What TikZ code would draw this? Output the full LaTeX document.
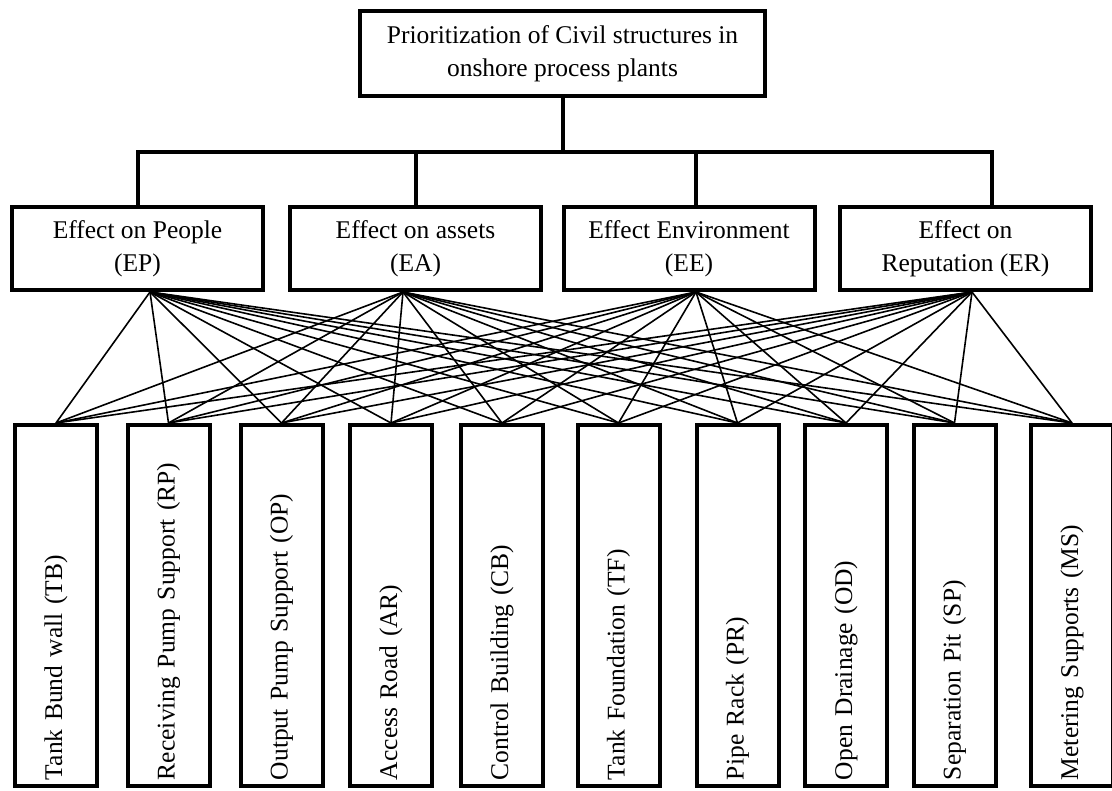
\documentclass[tikz,border=0pt]{standalone}
\usepackage{fontspec}
\setmainfont{Liberation Serif}

\begin{document}
\begin{tikzpicture}[x=.5pt,y=-.5pt]

      \useasboundingbox (0,0) rectangle (1112,791);

      \begin{scope}[every node/.style={draw,line width=2pt,align=center,
          font=\fontsize{12.75pt}{16.5pt}\selectfont,
          minimum width=125.5pt,minimum height=41.5pt}]
        \node (goal) [minimum width=202.5pt,minimum height=42.5pt] at (562.5,53.5)
          {Prioritization of Civil structures in\\onshore process plants};
        \node (EP) at (137.5,248.5) {Effect on People\\(EP)};
        \node (EA) at (415.5,248.5) {Effect on assets\\(EA)};
        \node (EE) at (689,248.5)   {Effect Environment\\(EE)};
        \node (ER) at (965.5,248.5) {Effect on\\Reputation (ER)};
      \end{scope}

      \begin{scope}[every node/.style={draw,line width=2pt,rotate=90,
          font=\fontsize{12.75pt}{16.5pt}\selectfont,align=left,
          text width=174.5pt,inner xsep=3pt,minimum height=41pt}]
        \node (TB) at (56,605.5)   {Tank Bund wall (TB)};
        \node (RP) at (168.5,605.5) {Receiving Pump Support (RP)};
        \node (OP) at (281.5,605.5) {Output Pump Support (OP)};
        \node (AR) at (391,605.5)  {Access Road (AR)};
        \node (CB) at (502,605.5)  {Control Building (CB)};
        \node (TF) at (618.5,605.5) {Tank Foundation (TF)};
        \node (PR) at (737.5,605.5) {Pipe Rack (PR)};
        \node (OD) at (846,605.5)  {Open Drainage (OD)};
        \node (SP) at (954.5,605.5) {Separation Pit (SP)};
        \node (MS) at (1072,605.5) {Metering Supports (MS)};
      \end{scope}

      \begin{scope}[line width=2pt]
        \coordinate (bar) at (560,152);
        \draw (goal.south) -- (goal.south |- bar);
        \draw (EP.north) |- (bar) -| ([xshift=13.25pt]ER.north);
        \draw (EA.north) -- (EA.north |- bar);
        \draw ([xshift=3.5pt]EE.north) -- ([xshift=3.5pt]EE.north |- bar);
      \end{scope}

      \begin{scope}[every edge/.style={draw,line width=.8pt}]
        \path ([xshift=6.25pt]EP.south) edge (TB.east) edge (RP.east) edge (OP.east)
          edge (AR.east) edge (CB.east) edge (TF.east) edge (PR.east)
          edge (OD.east) edge (SP.east) edge (MS.east);
        \path ([xshift=-6.25pt]EA.south) edge (TB.east) edge (RP.east) edge (OP.east)
          edge (AR.east) edge (CB.east) edge (TF.east) edge (PR.east)
          edge (OD.east) edge (SP.east) edge (MS.east);
        \path ([xshift=3.5pt]EE.south) edge (TB.east) edge (RP.east) edge (OP.east)
          edge (AR.east) edge (CB.east) edge (TF.east) edge (PR.east)
          edge (OD.east) edge (SP.east) edge (MS.east);
        \path ([xshift=3.25pt]ER.south) edge (TB.east) edge (RP.east) edge (OP.east)
          edge (AR.east) edge (CB.east) edge (TF.east) edge (PR.east)
          edge (OD.east) edge (SP.east) edge (MS.east);
      \end{scope}

    \end{tikzpicture}
\end{document}
